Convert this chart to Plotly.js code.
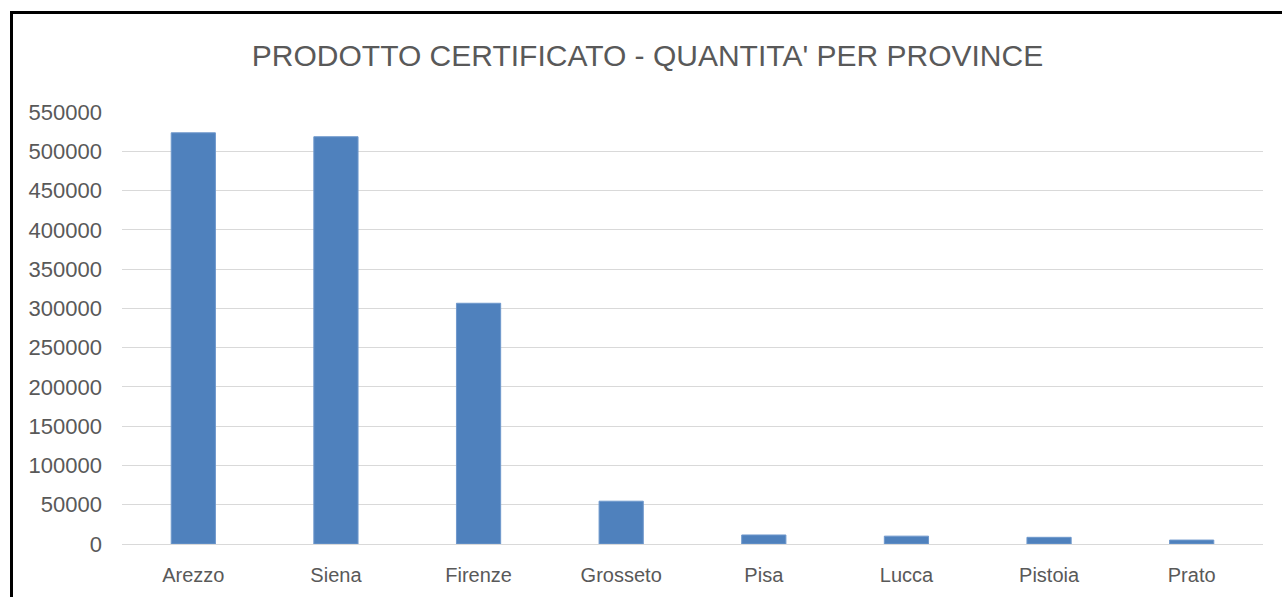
<!DOCTYPE html>
<html>
<head>
<meta charset="utf-8">
<script src="https://cdn.plot.ly/plotly-3.0.1.min.js"></script>
<style>
  html, body { margin: 0; padding: 0; background: #ffffff; overflow: hidden; }
  #frame { position: absolute; left: 10px; top: 11px; width: 1272px; height: 586px;
           border-left: 3px solid #000; border-top: 3px solid #000; box-sizing: border-box; }
  #chart { position: absolute; left: 0; top: 0; width: 1269px; height: 583px; }
</style>
</head>
<body>
<div id="frame"><div id="chart"></div></div>
<script>
const provinces = ["Arezzo", "Siena", "Firenze", "Grosseto", "Pisa", "Lucca", "Pistoia", "Prato"];
const quantities = [523500, 518500, 306500, 54500, 11500, 10000, 8500, 5000];
const yTickValues = [0, 50000, 100000, 150000, 200000, 250000, 300000, 350000, 400000, 450000, 500000, 550000];
const chartTitle = "PRODOTTO CERTIFICATO - QUANTITA' PER PROVINCE";

const textColor = "#595959";
const fontFamily = "'Liberation Sans', Arial, sans-serif";

const data = [{
  type: "bar",
  x: provinces,
  y: quantities,
  marker: { color: "#4f81bd", line: { color: "#6f98cc", width: 1 } },
  hoverinfo: "x+y"
}];

const layout = {
  width: 1269,
  height: 583,
  margin: { l: 109, r: 19, t: 98, b: 53 },
  paper_bgcolor: "#ffffff",
  plot_bgcolor: "#ffffff",
  showlegend: false,
  bargap: 0.69,
  font: { family: fontFamily, color: textColor },
  title: {
    text: chartTitle,
    font: { family: fontFamily, size: 30, color: textColor },
    x: 0.5, xref: "container", xanchor: "center",
    y: 0.928, yref: "container", yanchor: "middle"
  },
  xaxis: {
    type: "category",
    showgrid: false,
    showline: false,
    zeroline: false,
    ticks: "",
    tickfont: { family: fontFamily, size: 20, color: textColor },
    ticklabelstandoff: 17
  },
  yaxis: {
    range: [0, 550000],
    tickmode: "array",
    tickvals: yTickValues,
    ticktext: yTickValues.map(String),
    showgrid: true,
    gridcolor: "#d9d9d9",
    gridwidth: 1,
    zeroline: true,
    zerolinecolor: "#d9d9d9",
    zerolinewidth: 1,
    showline: false,
    ticks: "",
    tickfont: { family: fontFamily, size: 22, color: textColor },
    ticklabelstandoff: 19
  }
};

Plotly.newPlot("chart", data, layout, { displayModeBar: false, staticPlot: true });
</script>
</body>
</html>
